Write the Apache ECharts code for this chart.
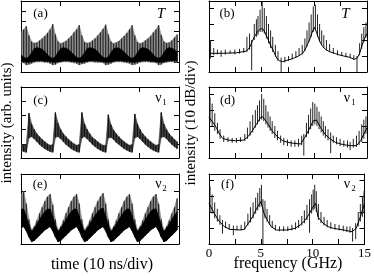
<!DOCTYPE html>
<html><head><meta charset="utf-8">
<script src="https://cdn.jsdelivr.net/npm/echarts@6/dist/echarts.min.js"></script>
<style>html,body{margin:0;padding:0;background:#fff}#c{width:374px;height:276px}</style>
</head><body><div id="c"></div>
<script>
// ---- time-domain sample positions (ns) ----
const timeNs = [0,0.67,1.34,2.01,2.68,3.35,4.02,4.69,5.36,6.03,6.7,7.37,8.04,8.71,9.38,10.05,10.72,11.39,12.06,12.73,13.4,14.07,14.74,15.41,16.08,16.75,17.42,18.09,18.76,19.43,20.1,20.77,21.44,22.11,22.78,23.45,24.12,24.79,25.46,26.13,26.8,27.47,28.14,28.81,29.48,30.15,30.82,31.49,32.16,32.83,33.5,34.17,34.84,35.51,36.18,36.85,37.52,38.19,38.86,39.53];
const timeTicks = [10,30];
// (a) T
const aHi = [3.9,4.2,4.5,3.6,3.0,2.85,2.9,3.1,3.3,3.55, 3.85,4.2,4.7,3.7,3.0,2.8,2.9,3.05,3.3,3.55, 3.9,4.2,4.6,3.6,2.95,2.85,2.9,3.1,3.3,3.6, 3.9,4.25,4.65,3.7,3.0,2.8,2.9,3.05,3.3,3.55, 3.85,4.2,4.6,3.6,2.95,2.8,2.9,3.1,3.3,3.55, 3.9,4.2,4.6,3.65,3.0,2.85,2.9,3.1,3.4,3.7];
const aLo = [0.95,0.9,0.7,0.75,0.85,0.95,1.0,1.0,1.0,0.95, 0.95,0.85,0.7,0.75,0.9,0.95,1.0,1.0,1.0,0.95, 0.9,0.85,0.7,0.8,0.85,0.95,1.0,1.0,0.95,0.95, 0.95,0.9,0.7,0.75,0.85,0.95,1.0,1.0,1.0,0.95, 0.9,0.85,0.7,0.75,0.85,0.95,1.0,1.0,1.0,0.95, 0.95,0.9,0.7,0.75,0.9,0.95,1.0,1.0,1.0,0.95];
const aCoreHi = [1.7,1.45,1.35,1.5,1.9,2.3,2.4,2.35,2.25,2.0, 1.7,1.45,1.35,1.5,1.95,2.3,2.4,2.35,2.2,1.95, 1.7,1.45,1.35,1.5,1.9,2.3,2.4,2.35,2.25,2.0, 1.7,1.45,1.35,1.5,1.9,2.3,2.4,2.35,2.2,1.95, 1.7,1.45,1.35,1.5,1.9,2.3,2.4,2.35,2.25,2.0, 1.7,1.45,1.35,1.5,1.9,2.3,2.4,2.35,2.2,2.0];
const aCoreLo = [1.05,1.0,0.95,0.95,1.0,1.05,1.1,1.1,1.1,1.05, 1.05,1.0,0.95,0.95,1.0,1.05,1.1,1.1,1.1,1.05, 1.05,1.0,0.95,0.95,1.0,1.05,1.1,1.1,1.1,1.05, 1.05,1.0,0.95,0.95,1.0,1.05,1.1,1.1,1.1,1.05, 1.05,1.0,0.95,0.95,1.0,1.05,1.1,1.1,1.1,1.05, 1.05,1.0,0.95,0.95,1.0,1.05,1.1,1.1,1.1,1.05];
// (c) nu1
const cHi = [1.0,0.9,0.95,3.15,2.4,2.0,1.7,1.5,1.3,1.15, 1.0,0.9,0.95,3.2,2.45,2.0,1.7,1.5,1.3,1.15, 1.0,0.9,0.95,3.2,2.4,2.0,1.7,1.45,1.3,1.15, 1.0,0.9,0.9,3.05,2.35,1.95,1.7,1.5,1.3,1.15, 1.0,0.9,0.95,3.1,2.4,2.0,1.7,1.5,1.3,1.15, 1.0,0.9,0.95,3.2,2.4,2.0,1.7,1.5,1.3,1.15];
const cLo = [0.55,0.45,0.4,1.4,1.5,1.35,1.15,0.95,0.8,0.65, 0.55,0.45,0.4,1.45,1.5,1.35,1.15,0.95,0.8,0.65, 0.55,0.45,0.4,1.4,1.5,1.35,1.15,0.95,0.8,0.65, 0.55,0.45,0.4,1.4,1.45,1.3,1.1,0.95,0.8,0.65, 0.55,0.45,0.4,1.4,1.5,1.35,1.15,0.95,0.8,0.65, 0.55,0.45,0.4,1.45,1.5,1.35,1.15,0.95,0.8,0.65];
// (e) nu2
const eHi = [2.8,3.0,2.3,1.4,0.8,1.0,1.35,1.75,2.1,2.45, 2.7,2.85,2.25,1.4,0.8,1.0,1.35,1.75,2.1,2.45, 2.7,2.85,2.3,1.4,0.8,1.0,1.35,1.75,2.1,2.45, 2.7,2.9,2.3,1.4,0.8,1.0,1.35,1.75,2.1,2.45, 2.7,2.85,2.3,1.4,0.8,1.0,1.35,1.75,2.1,2.45, 2.7,2.85,2.3,1.4,0.8,1.0,1.35,1.75,2.1,2.6];
const eCoreHi = [2.0,2.0,1.6,1.1,0.7,0.9,1.15,1.4,1.65,1.85, 2.0,2.0,1.6,1.1,0.7,0.9,1.15,1.4,1.65,1.85, 2.0,2.0,1.6,1.1,0.7,0.9,1.15,1.4,1.65,1.85, 2.0,2.05,1.6,1.1,0.7,0.9,1.15,1.4,1.65,1.85, 2.0,2.0,1.6,1.1,0.7,0.9,1.15,1.4,1.65,1.85, 2.0,2.0,1.6,1.1,0.7,0.9,1.15,1.4,1.65,1.85];
const eCoreLo = [0.9,1.0,0.75,0.4,0.13,0.2,0.35,0.5,0.65,0.8, 0.9,1.0,0.75,0.4,0.13,0.2,0.35,0.5,0.65,0.8, 0.9,1.0,0.75,0.4,0.13,0.2,0.35,0.5,0.65,0.8, 0.9,1.0,0.75,0.4,0.13,0.2,0.35,0.5,0.65,0.8, 0.9,1.0,0.75,0.4,0.13,0.2,0.35,0.5,0.65,0.8, 0.9,1.0,0.75,0.4,0.13,0.2,0.35,0.5,0.65,0.8];

// ---- spectra (GHz, dB) ----
const freqTickLabels = [0,5,10,15];
const bBaseF = [0,1.3,2.6,3.5,3.7,3.9,4.1,4.3,4.5,4.7,4.9,5.1,5.3,5.5,5.7,5.9,6.1,6.3,6.5,6.7,7.0,7.5,8.0,8.5,8.9,9.2,9.4,9.6,9.8,10.0,10.2,10.4,10.6,10.8,11.1,11.45,12.0,12.4,13.0,13.35,13.8,14.1,14.3,14.5,14.7,15.0];
const bBaseV = [11.7,11.7,12,13,14,16,19,22,24,26,27,27,25,22,19,16,13.5,10.5,8,7,6.5,7.5,8.5,10,11.7,15,18,21,25,28,25,21,18,15.8,14,12.7,11.5,10.6,9.7,9.2,7.9,9,11.7,16,20,24];
const bSpikeF  = [0.15,0.45,0.8,1.15,1.55,2.0,2.45,2.9,3.3,3.6,3.85,4.05,4.3,4.5,4.65,4.85,5.05,5.25,5.45,5.65,5.85,6.05,6.3,6.55,6.85,7.2,7.55,7.9,8.25,8.55,8.85,9.1,9.3,9.5,9.7,9.9,10.1,10.3,10.5,10.7,10.9,11.15,11.45,11.8,12.2,12.6,13.0,13.4,13.75,14.05,14.3,14.5,14.7,14.9];
const bSpikeLo = [8.5,10.5,11,9.5,11,11.5,11,11.5,12,12.5,14,1,20,22,23,25,25,24,21,18,15,12.5,9.5,7,0,6,7,8,9,10,11,13,16,19,22,25,26,22,19,17,15,13.5,12.5,11.5,10.5,10,9.2,8.7,7.5,0,10.5,14.5,18.5,21.5];
const bSpikeHi = [20,15,14,13.5,14,13.5,14,14.5,15,22,24,20,30,33,35,39,44,40,35,30,26,22,17,13,9,9.5,10,11.5,13,15,17,21,26,31,36,41,42,36,30,26,23,20,17.5,15,13.5,12.5,12,11.5,10.5,10,18,24,28,31];

const dBaseF = [0,0.3,0.7,1.0,1.3,1.8,2.5,3.3,3.7,4.1,4.5,4.9,5.1,5.5,6.0,6.5,7.0,7.5,8.0,8.7,9.1,9.5,9.9,10.2,10.6,11.0,11.5,12.0,12.5,13.0,13.5,14.0,14.4,14.7,15.0];
const dBaseV = [25.4,23,19,15,12.3,11.25,10.8,11.25,13.3,17,21,25.4,25.8,22.3,17,13.3,10.8,9.8,9.2,8.75,13,18,23.3,23.75,19,15,11.9,9.8,8.75,8.1,7.7,7.7,10.8,15,19];
const dSpikeF  = [0.1,0.3,0.55,0.8,1.05,1.4,1.8,2.2,2.6,3.0,3.4,3.65,3.9,4.15,4.4,4.6,4.8,5.0,5.2,5.4,5.6,5.8,6.0,6.25,6.5,6.8,7.1,7.45,7.8,8.15,8.5,8.8,9.0,9.25,9.45,9.65,9.85,10.05,10.25,10.45,10.65,10.85,11.05,11.3,11.55,11.8,12.1,12.45,12.8,13.15,13.4,13.7,14.0,14.25,14.5,14.7,14.9];
const dSpikeLo = [22,20,17,15,12,10,10,9.5,9.5,10,10.5,12,14,16,19,21,23,24,23,21,19,17,15,12.5,11,9.5,8,7.5,7,7,7,8,1.5,13,15,18,20,21,20,18,16,14,12.5,11,3,9.5,8.5,7.5,7,6.5,5,6.5,7,8,10,12,15];
const dSpikeHi = [38,34,28,22,18,14,13,12.5,12.5,13,15,19,23,27,30,33,36,40,37,33,29,26,23,20,17,14,12.5,11.5,11,11,12,14,15,22,27,31,35,34,32,29,26,23,20,18,16,14,13,12,11,11,10,12,14,17,21,24,26];

const fBaseF = [0,0.5,1.0,1.5,2.0,3.0,3.4,3.8,4.2,4.6,5.0,5.3,5.7,6.0,6.5,7.5,8.3,8.8,9.3,9.7,10.0,10.3,10.5,11.0,11.5,12.0,13.0,13.8,14.2,14.6,15.0];
const fBaseV = [25.4,19.2,14,10.8,9.2,8.75,9.2,13,17,22.3,26.5,19.2,14,10.8,8.75,8.75,9.8,11.9,15,19.2,22.9,25.4,17,13,10.8,9.8,8.75,7.7,9.8,17,25.4];
const fSpikeF  = [0.1,0.3,0.55,0.8,1.05,1.3,1.6,1.95,2.35,2.7,3.1,3.45,3.75,4.0,4.25,4.5,4.7,4.9,5.06,5.2,5.4,5.6,5.85,6.1,6.4,6.8,7.2,7.6,8.0,8.35,8.65,8.95,9.2,9.45,9.7,9.9,10.05,10.2,10.35,10.55,10.8,11.1,11.4,11.75,12.15,12.55,12.95,13.3,13.6,13.85,14.15,14.4,14.6,14.8,14.95];
const fSpikeLo = [20,19,16,14,12,6.5,10,9,5.5,8.5,8.5,9,11.5,13.5,16,19,21,23,24,0,16,14,12,10,8.5,8,8,8,8.5,9,10,11.5,13,15,7,19,21,22,20,15,13,11.5,10.5,9.5,9,8.5,8,7.5,7,1.5,3,11,14,17,20];
const fSpikeHi = [36,31,26,22,18,15,14,12.5,11.5,11.5,12,14,19,23,26,29,32,35,37,28,27,22,18,14.5,12,11,11,11,12,13.5,15,17.5,21,24.5,28,31,34,37,33,25,20,17,15,13.5,12.5,12,11.5,11,11,10,13,20,25,30,33];

// ---- helpers building library data from the arrays ----
function vlineData(xs, lo, hi){ return xs.map((x,i)=>[x, lo[i], hi[i]]); }
function bandData(xs, lo, hi){ const out=[]; for(let i=0;i<xs.length-1;i++) out.push([xs[i],lo[i],hi[i],xs[i+1],lo[i+1],hi[i+1]]); return out; }
function pairs(xs, ys){ return xs.map((x,i)=>[x, ys[i]]); }
function vlineSeries(g, data, color, w){
  return {type:'custom', xAxisIndex:2*g, yAxisIndex:2*g, silent:true, animation:false, clip:true,
    encode:{x:0, y:[1,2]}, data,
    renderItem:(p, api)=>{ const a=api.coord([api.value(0),api.value(1)]), b=api.coord([api.value(0),api.value(2)]);
      return {type:'line', shape:{x1:a[0],y1:a[1],x2:b[0],y2:b[1]}, style:{stroke:color, lineWidth:w}}; }};
}
function bandSeries(g, data, color){
  return {type:'custom', xAxisIndex:2*g, yAxisIndex:2*g, silent:true, animation:false, clip:true,
    encode:{x:[0,3], y:[1,2,4,5]}, data,
    renderItem:(p, api)=>{ const pts=[api.coord([api.value(0),api.value(2)]), api.coord([api.value(3),api.value(5)]),
        api.coord([api.value(3),api.value(4)]), api.coord([api.value(0),api.value(1)])];
      return {type:'polygon', shape:{points:pts}, style:{fill:color, stroke:color, lineWidth:0.6}}; }};
}
function lineSeries(g, data){
  return {type:'line', xAxisIndex:2*g, yAxisIndex:2*g, data, showSymbol:false, silent:true, animation:false,
    lineStyle:{color:'#000', width:1}};
}

const FONT = '"Liberation Serif","Times New Roman",serif';
const grids = [
  {left:21, top:1, width:158, height:71},
  {left:209, top:1, width:158, height:71},
  {left:21, top:87, width:158, height:71},
  {left:209, top:87, width:158, height:71},
  {left:21, top:174, width:158, height:70},
  {left:209, top:174, width:158, height:70}
];
const yMaxL = [7, null, 5, null, 4, null];
const xAxes=[], yAxes=[];
const lineStyle = {color:'#000', width:1};
grids.forEach((gr, g)=>{
  const right = g%2===1;
  const showLab = g===5;
  ['bottom','top'].forEach(pos=>{
    const ax = {gridIndex:g, type:'value', position:pos, splitLine:{show:false},
      axisLine:{show:true, onZero:false, lineStyle},
      axisTick:{show:true, inside:true, length:5, lineStyle}, axisLabel:{show:false}};
    if(right){ ax.min=0; ax.max=15; ax.interval=2.5;
      if(showLab && pos==='bottom'){ ax.axisLabel={show:true, margin:3, color:'#000', fontFamily:FONT, fontSize:13,
        formatter:v=> freqTickLabels.indexOf(v)>=0 ? String(v) : ''}; }
    } else { ax.min=0; ax.max=40; ax.axisTick.customValues = timeTicks; }
    xAxes.push(ax);
  });
  ['left','right'].forEach(pos=>{
    const ax = {gridIndex:g, type:'value', position:pos, splitLine:{show:false},
      axisLine:{show:true, onZero:false, lineStyle},
      axisTick:{show:true, inside:true, length:5, lineStyle}, axisLabel:{show:false}};
    if(right){ ax.min=0; ax.max = g===5 ? 43.75 : 44.4; ax.interval=10; }
    else { ax.min=0; ax.max=yMaxL[g]; ax.interval=1; }
    yAxes.push(ax);
  });
});

const series = [
  bandSeries(0, bandData(timeNs, aLo, aHi), '#8c8c8c'),
  vlineSeries(0, vlineData(timeNs, aLo, aHi), '#222', 1.1),
  bandSeries(0, bandData(timeNs, aCoreLo, aCoreHi), '#000'),
  lineSeries(1, pairs(bBaseF, bBaseV)),
  vlineSeries(1, vlineData(bSpikeF, bSpikeLo, bSpikeHi), '#222', 1),
  bandSeries(2, bandData(timeNs, cLo, cHi), '#454545'),
  vlineSeries(2, vlineData(timeNs, cLo, cHi), '#111', 1.2),
  lineSeries(3, pairs(dBaseF, dBaseV)),
  vlineSeries(3, vlineData(dSpikeF, dSpikeLo, dSpikeHi), '#222', 1),
  bandSeries(4, bandData(timeNs, eCoreLo, eHi), '#8c8c8c'),
  vlineSeries(4, vlineData(timeNs, eCoreLo, eHi), '#222', 1.1),
  bandSeries(4, bandData(timeNs, eCoreLo, eCoreHi), '#000'),
  lineSeries(5, pairs(fBaseF, fBaseV)),
  vlineSeries(5, vlineData(fSpikeF, fSpikeLo, fSpikeHi), '#222', 1)
];

function txt(t, x, y, size, opts){
  return Object.assign({type:'text', x, y, silent:true, style:{text:t, fill:'#000', font: (opts&&opts.italic?'italic ':'')+size+'px '+FONT,
    align:'center', verticalAlign:'middle'}}, opts&&opts.rot ? {rotation:opts.rot} : {});
}
const graphics = [
  txt('(a)',40.5,14,13), txt('(b)',227,14,13), txt('(c)',40.5,100.5,13), txt('(d)',227.5,100.5,13), txt('(e)',40,185,13), txt('(f)',227.5,185,13),
  txt('T',161,14,15,{italic:true}), txt('T',345.5,14,15,{italic:true}),
  txt('ν',158.3,98,14), txt('1',164.5,102.5,9), txt('ν',347,98,14), txt('1',353.5,102.5,9),
  txt('ν',158.3,184,14), txt('2',164.5,188.5,9), txt('ν',347,184,14), txt('2',353.5,188.5,9),
  txt('intensity (arb. units)',7,123,15,{rot:Math.PI/2}),
  txt('intensity (10 dB/div)',191,123,15,{rot:Math.PI/2}),
  txt('time (10 ns/div)',102,265,16),
  txt('frequency (GHz)',288,264,16)
];

const chart = echarts.init(document.getElementById('c'), null, {renderer:'canvas'});
chart.setOption({animation:false, backgroundColor:'#fff', grid:grids, xAxis:xAxes, yAxis:yAxes, series, graphic:graphics});
</script></body></html>
